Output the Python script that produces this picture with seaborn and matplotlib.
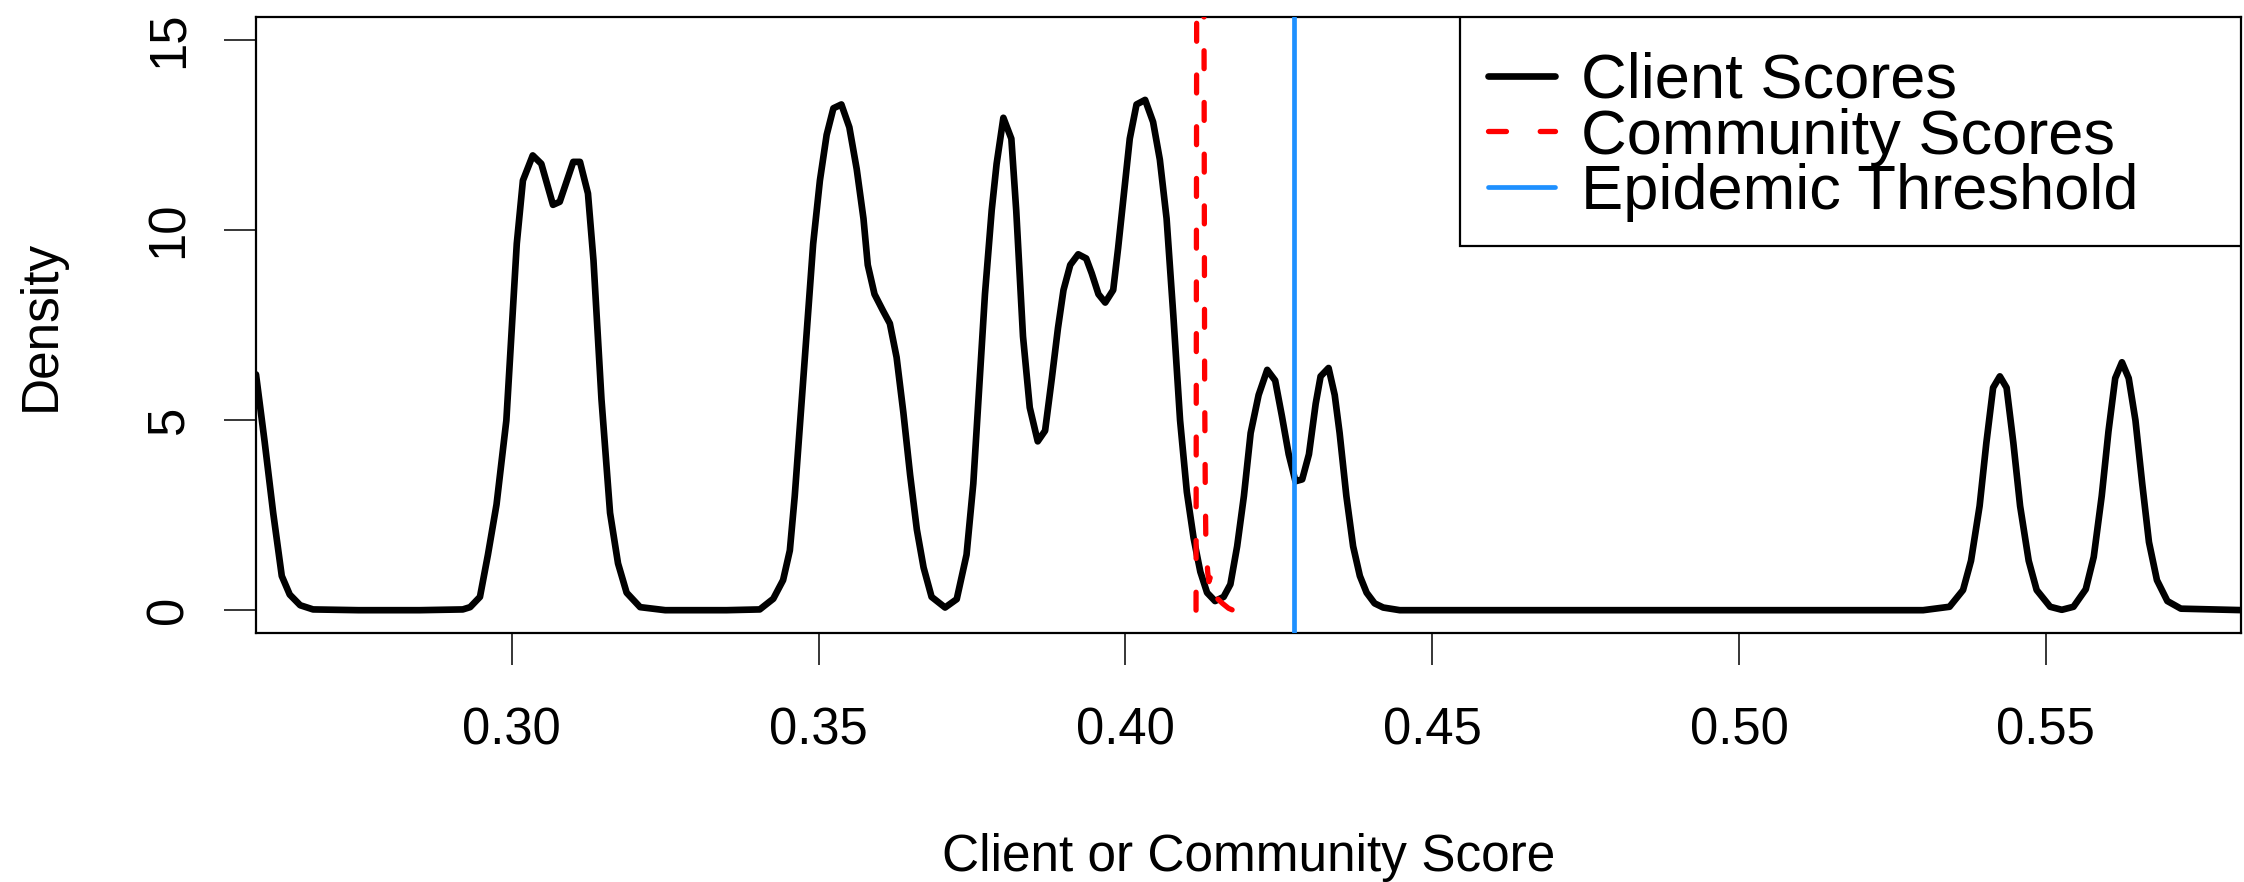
import pandas as pd
import matplotlib
matplotlib.use('Agg')
import matplotlib.pyplot as plt
import seaborn as sns
from matplotlib.patches import Rectangle

# density curve of client scores
client_x = [0.2583, 0.2597, 0.2611, 0.2625, 0.2638, 0.2655, 0.2676, 0.2750, 0.2850, 0.2920,
            0.2932, 0.2948, 0.2961, 0.2975, 0.2991, 0.3008, 0.3018, 0.3034, 0.3048, 0.3067,
            0.3078, 0.3100, 0.3111, 0.3124, 0.3133, 0.3146, 0.3160, 0.3173, 0.3187, 0.3209,
            0.3250, 0.3350, 0.3404, 0.3426, 0.3442, 0.3453, 0.3461, 0.3469, 0.3480, 0.3491,
            0.3502, 0.3513, 0.3524, 0.3537, 0.3550, 0.3562, 0.3573, 0.3580, 0.3591, 0.3605,
            0.3616, 0.3627, 0.3638, 0.3649, 0.3660, 0.3671, 0.3684, 0.3706, 0.3725, 0.3741,
            0.3752, 0.3760, 0.3771, 0.3782, 0.3790, 0.3801, 0.3814, 0.3822, 0.3833, 0.3844,
            0.3857, 0.3869, 0.3880, 0.3890, 0.3899, 0.3910, 0.3923, 0.3936, 0.3945, 0.3956,
            0.3967, 0.3980, 0.3988, 0.3996, 0.4007, 0.4018, 0.4032, 0.4045, 0.4056, 0.4067,
            0.4078, 0.4089, 0.4100, 0.4111, 0.4122, 0.4133, 0.4146, 0.4160, 0.4171, 0.4182,
            0.4193, 0.4204, 0.4217, 0.4231, 0.4244, 0.4255, 0.4266, 0.4277, 0.4288, 0.4299,
            0.4310, 0.4318, 0.4331, 0.4341, 0.4349, 0.4360, 0.4371, 0.4382, 0.4393, 0.4406,
            0.4420, 0.4447, 0.5300, 0.5343, 0.5365, 0.5378, 0.5392, 0.5403, 0.5414, 0.5425,
            0.5436, 0.5447, 0.5458, 0.5472, 0.5485, 0.5507, 0.5526, 0.5545, 0.5565, 0.5578,
            0.5591, 0.5602, 0.5613, 0.5624, 0.5635, 0.5646, 0.5657, 0.5668, 0.5681, 0.5698,
            0.5720, 0.5823]
client_y = [6.20, 4.44, 2.56, 0.90, 0.41, 0.13, 0.02, 0.00, 0.00, 0.02,
            0.08, 0.35, 1.46, 2.78, 4.99, 9.64, 11.30, 11.96, 11.74, 10.66,
            10.74, 11.79, 11.79, 10.96, 9.20, 5.55, 2.56, 1.23, 0.46, 0.08,
            0.00, 0.00, 0.02, 0.30, 0.79, 1.57, 3.00, 4.77, 7.20, 9.63,
            11.30, 12.50, 13.20, 13.30, 12.70, 11.60, 10.30, 9.08, 8.31, 7.87,
            7.54, 6.65, 5.20, 3.56, 2.12, 1.12, 0.35, 0.07, 0.29, 1.46,
            3.33, 5.43, 8.31, 10.52, 11.74, 12.95, 12.40, 10.50, 7.20, 5.33,
            4.44, 4.72, 6.10, 7.42, 8.42, 9.08, 9.36, 9.25, 8.86, 8.31,
            8.09, 8.42, 9.52, 10.74, 12.40, 13.30, 13.42, 12.84, 11.85, 10.30,
            7.75, 4.99, 3.11, 1.90, 1.01, 0.46, 0.24, 0.35, 0.68, 1.68,
            3.00, 4.66, 5.66, 6.32, 6.04, 5.10, 4.10, 3.39, 3.44, 4.10,
            5.43, 6.15, 6.37, 5.66, 4.66, 3.00, 1.68, 0.90, 0.46, 0.18,
            0.07, 0.00, 0.00, 0.09, 0.53, 1.30, 2.74, 4.40, 5.85, 6.15,
            5.85, 4.40, 2.74, 1.30, 0.53, 0.09, 0.01, 0.09, 0.55, 1.40,
            3.00, 4.70, 6.10, 6.52, 6.10, 4.99, 3.33, 1.79, 0.79, 0.24,
            0.04, 0.00]

# density curve of community scores (very narrow, peak runs off the top)
community_x = [0.4115, 0.4116, 0.41215, 0.4128, 0.4129, 0.4130, 0.4131, 0.4134,
               0.4136, 0.4139, 0.4142, 0.4145, 0.4150, 0.4158, 0.4168, 0.4175]
community_y = [0.00, 15.5, 80.0, 15.5, 6.0, 3.3, 1.8, 1.0,
               0.75, 0.90, 0.50, 0.60, 0.30, 0.18, 0.05, 0.00]

epidemic_threshold = 0.4274

x_ticks = [0.30, 0.35, 0.40, 0.45, 0.50, 0.55]
x_tick_labels = ['0.30', '0.35', '0.40', '0.45', '0.50', '0.55']
y_ticks = [0, 5, 10, 15]
x_limits = (0.2583, 0.5818)
y_limits = (-0.6, 15.6)

sns.set_style('ticks')
plt.rcParams['font.family'] = ['Liberation Sans', 'DejaVu Sans']
plt.rcParams['text.color'] = 'black'
plt.rcParams['axes.labelcolor'] = 'black'
plt.rcParams['xtick.color'] = 'black'
plt.rcParams['ytick.color'] = 'black'

fig = plt.figure(figsize=(22.44, 8.82), dpi=100)
ax = fig.add_axes([256 / 2244, 249 / 882, 1985 / 2244, 616 / 882])
ax.set_facecolor('white')

client = pd.DataFrame({'score': client_x, 'density': client_y})
community = pd.DataFrame({'score': community_x, 'density': community_y})

sns.lineplot(data=client, x='score', y='density', ax=ax, color='black',
             linewidth=4.8, sort=False, estimator=None, label='Client Scores',
             solid_joinstyle='round', solid_capstyle='round', zorder=2)
sns.lineplot(data=community, x='score', y='density', ax=ax, color='red',
             linewidth=3.8, sort=False, estimator=None, label='Community Scores',
             linestyle=(0, (3.4, 6.4)), dash_capstyle='round', zorder=3)
ax.axvline(epidemic_threshold, color='#1E90FF', linewidth=3.4,
           label='Epidemic Threshold', zorder=4)

ax.set_xlim(*x_limits)
ax.set_ylim(*y_limits)
ax.set_xticks(x_ticks)
ax.set_xticklabels(x_tick_labels)
ax.set_yticks(y_ticks)

for side in ['top', 'right', 'bottom', 'left']:
    ax.spines[side].set_visible(True)
    ax.spines[side].set_color('black')
    ax.spines[side].set_linewidth(1.6)

ax.tick_params(axis='both', direction='out', length=23, width=1.1,
               colors='black', labelsize=36.5)
ax.tick_params(axis='x', pad=30)
ax.tick_params(axis='y', pad=22, labelrotation=90)
for lab in ax.get_yticklabels():
    lab.set_va('center')

ax.set_xlabel('Client or Community Score', fontsize=37)
ax.xaxis.set_label_coords(0.5, (633 - 858) / 616)
ax.xaxis.label.set_va('center')
ax.set_ylabel('Density', fontsize=37)
ax.yaxis.set_label_coords((41 - 256) / 1985, 0.5)
ax.yaxis.label.set_va('center')

# legend: R style box in the top right corner
leg = ax.legend(loc='upper left', bbox_to_anchor=(0.603, 1.0), borderaxespad=0,
                fontsize=45.5, frameon=False, handlelength=1.06, handletextpad=0.41,
                borderpad=0.55, labelspacing=-0.05)
box = Rectangle((0.6065, 0.6282), 1 - 0.6065, 1 - 0.6282, transform=ax.transAxes,
                fill=True, facecolor='white', edgecolor='black', linewidth=1.6,
                zorder=5)
ax.add_patch(box)
leg.set_zorder(6)

fig.savefig('out.png', dpi=100)
